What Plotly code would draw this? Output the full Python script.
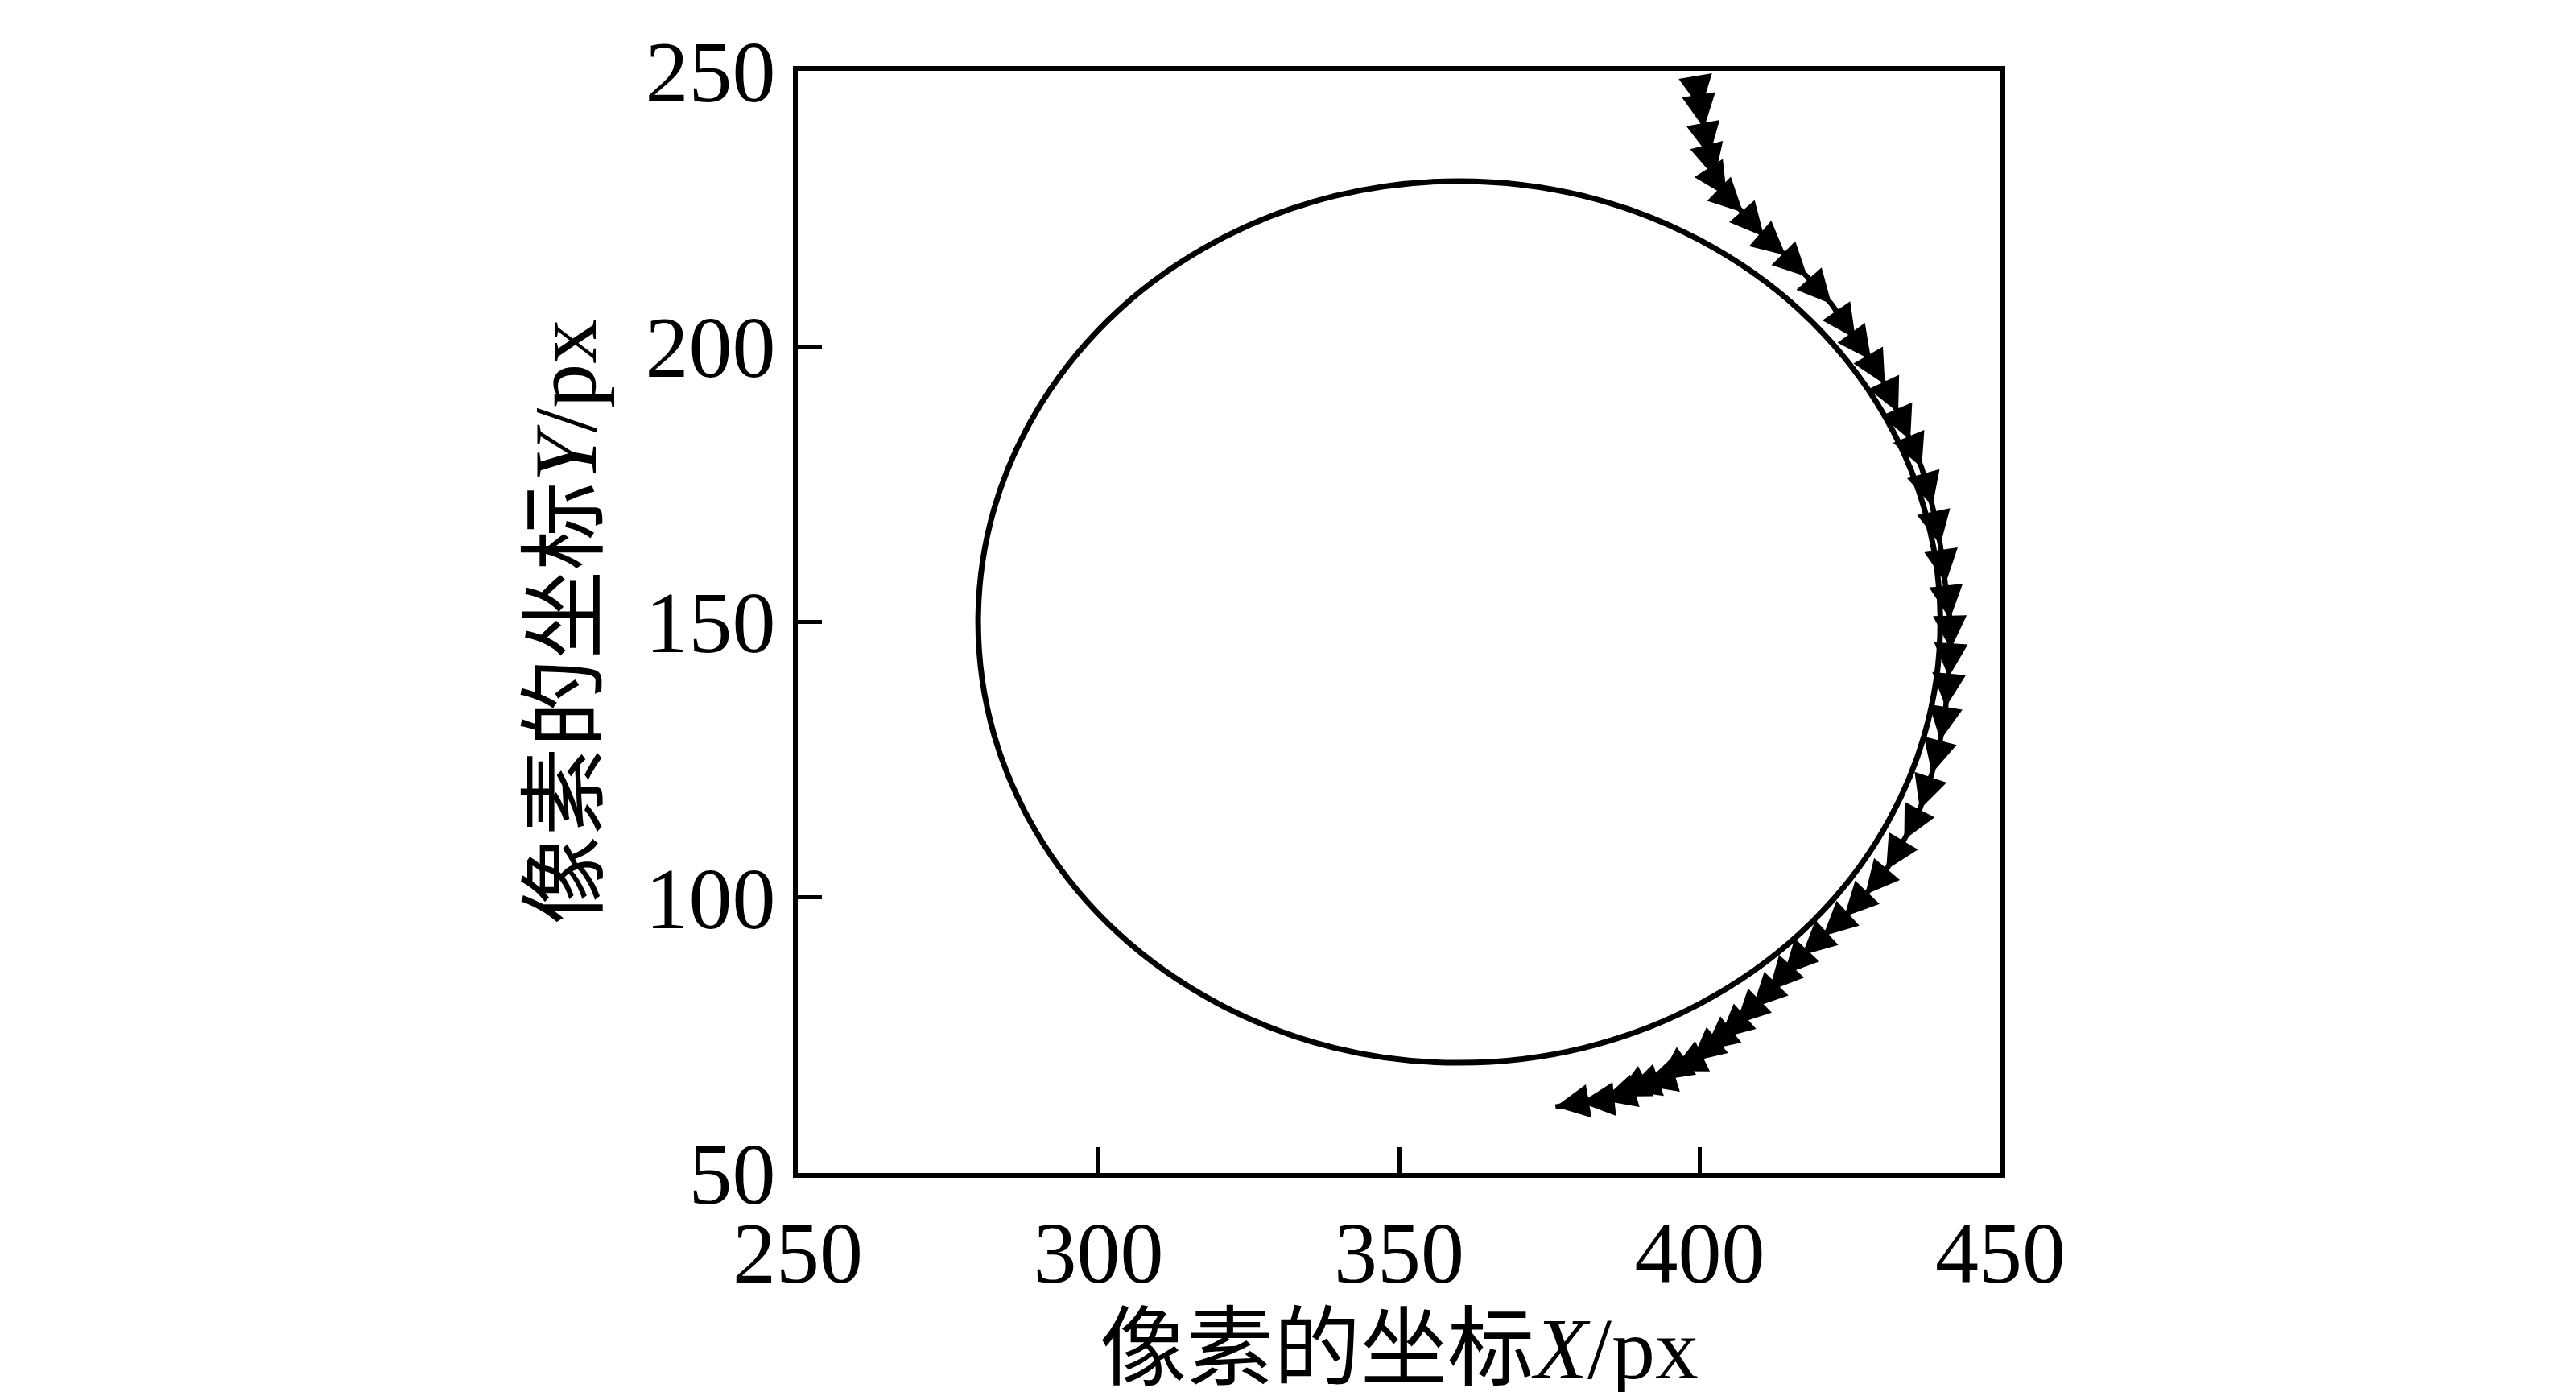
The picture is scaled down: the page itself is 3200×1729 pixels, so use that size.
import plotly.graph_objects as go

# ---- data ----
circle_x = [440.0, 437.3, 429.3, 416.6, 400.0, 380.7, 360.0, 339.3, 320.0, 303.4, 290.7, 282.7,
            280.0, 282.7, 290.7, 303.4, 320.0, 339.3, 360.0, 380.7, 400.0, 416.6, 429.3, 437.3, 440.0]
circle_y = [150.0, 170.7, 190.0, 206.6, 219.3, 227.3, 230.0, 227.3, 219.3, 206.6, 190.0, 170.7,
            150.0, 129.3, 110.0, 93.4, 80.7, 72.7, 70.0, 72.7, 80.7, 93.4, 110.0, 129.3, 150.0]

traj_x = [399.6, 400.2, 400.7, 401.6, 402.5, 404.5, 407.2, 410.7, 414.3, 417.9, 421.9, 425.9,
          428.5, 430.8, 433.0, 435.0, 436.9, 438.7, 440.0, 440.9, 441.6, 441.7, 441.4, 440.9,
          440.0, 438.6, 436.6, 434.0, 431.0, 427.5, 424.0, 420.5, 417.0, 414.0, 411.5, 408.8,
          406.0, 403.3, 400.8, 398.6, 395.4, 393.2, 390.5, 387.8, 386.0, 383.8, 380.2, 376.0]
traj_y = [246.9, 243.0, 239.6, 234.5, 230.6, 227.2, 224.3, 219.9, 216.5, 212.6, 207.7, 201.4,
          197.5, 193.1, 188.0, 183.0, 178.0, 171.0, 164.0, 157.0, 150.5, 145.0, 140.0, 134.5,
          128.5, 122.5, 116.0, 110.5, 105.0, 100.5, 96.5, 93.0, 89.5, 86.0, 83.0, 80.0,
          77.0, 74.4, 72.2, 70.2, 68.5, 66.8, 65.9, 64.9, 63.9, 63.2, 62.8, 62.0]

x_ticks = [250, 300, 350, 400, 450]
y_ticks = [50, 100, 150, 200, 250]
x_title = "像素的坐标<i>X</i>/px"
y_title = "像素的坐标<i>Y</i>/px"

FONT = "Liberation Serif, Times New Roman, Noto Sans CJK SC, serif"

fig = go.Figure()
fig.add_trace(go.Scatter(x=circle_x, y=circle_y, mode="lines",
                         line=dict(color="black", width=7, shape="spline", smoothing=1.0),
                         showlegend=False, hoverinfo="skip"))
fig.add_trace(go.Scatter(x=traj_x, y=traj_y, mode="lines",
                         line=dict(color="black", width=6.5),
                         showlegend=False, hoverinfo="skip"))

annotations = []
for i in range(1, len(traj_x)):
    annotations.append(dict(
        x=traj_x[i], y=traj_y[i], xref="x", yref="y",
        ax=traj_x[i - 1], ay=traj_y[i - 1], axref="x", ayref="y",
        text="", showarrow=True, arrowhead=2, arrowsize=1.4, arrowwidth=6,
        arrowcolor="black", standoff=0, startstandoff=0))

fig.update_layout(
    width=3200, height=1729,
    margin=dict(l=983, r=723, t=80, b=280, pad=0),
    paper_bgcolor="white", plot_bgcolor="white",
    font=dict(family=FONT, size=108, color="black"),
    annotations=annotations,
)
fig.update_xaxes(range=[250, 450], tickvals=x_ticks, ticks="inside", ticklen=32, tickwidth=5,
                 tickcolor="black", showline=True, linecolor="black", linewidth=6, mirror=True,
                 showgrid=False, zeroline=False, tickfont=dict(family=FONT, size=108),
                 title=dict(text=x_title, font=dict(family=FONT, size=108), standoff=16))
fig.update_yaxes(range=[50, 250], tickvals=y_ticks, ticks="inside", ticklen=30, tickwidth=5,
                 tickcolor="black", showline=True, linecolor="black", linewidth=6, mirror=True,
                 showgrid=False, zeroline=False, tickfont=dict(family=FONT, size=108),
                 title=dict(text=y_title, font=dict(family=FONT, size=110), standoff=26))

fig.write_html("out.html")
